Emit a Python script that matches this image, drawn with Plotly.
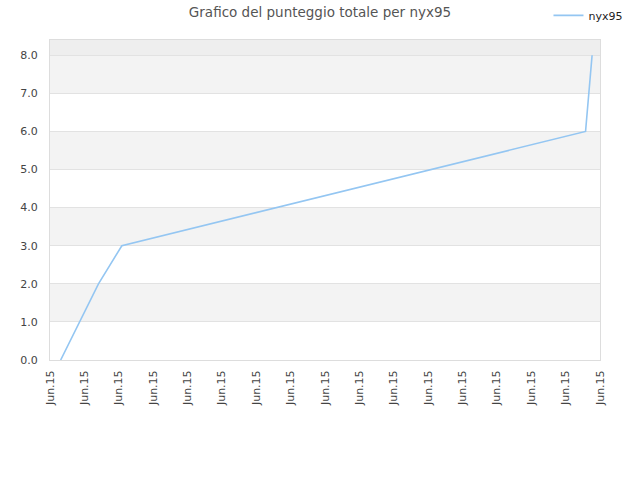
import plotly.graph_objects as go

# punteggio totale nel tempo (posizioni lungo l'asse delle date)
pos = [0.31, 1.41, 2.09, 15.58, 15.77]
punteggio = [0, 2, 3, 6, 8]
tick_pos = list(range(17))
tick_lab = ["Jun.15"] * 17

fig = go.Figure()

# bande alternate
for y0 in [1, 3, 5, 7]:
    fig.add_hrect(y0=y0, y1=y0 + 1, fillcolor="#f3f3f3", line_width=0, layer="below")
fig.add_hrect(y0=8, y1=8.4, fillcolor="#eeeeee", line_width=0, layer="below")

fig.add_trace(go.Scatter(x=pos, y=punteggio, mode="lines", name="nyx95",
                         line=dict(color="#94c6f2", width=1.6)))

fig.update_layout(
    width=640, height=480,
    margin=dict(l=50, r=40, t=40, b=120, autoexpand=False),
    paper_bgcolor="white", plot_bgcolor="white",
    font=dict(family="DejaVu Sans", size=11, color="#444"),
    title=dict(text="Grafico del punteggio totale per nyx95", x=0.5, xanchor="center",
               xref="container", yref="container",
               y=0.975, yanchor="middle", font=dict(size=13.5, color="#555")),
    showlegend=True,
    legend=dict(xref="container", yref="container", x=0.857, xanchor="left",
                y=0.968, yanchor="middle",
                font=dict(size=11, color="#222"), bgcolor="rgba(0,0,0,0)"),
)
fig.update_xaxes(range=[0, 16], tickvals=tick_pos, ticktext=tick_lab, tickangle=-90,
                 showgrid=False, zeroline=False, showline=True, linecolor="#dddddd",
                 mirror=True, ticks="", automargin=False, ticklabelstandoff=5,
                 tickfont=dict(size=11, color="#444"))
fig.update_yaxes(range=[0, 8.4], tickvals=[0, 1, 2, 3, 4, 5, 6, 7, 8],
                 ticktext=["0.0", "1.0", "2.0", "3.0", "4.0", "5.0", "6.0", "7.0", "8.0"],
                 showgrid=True, gridcolor="#e2e2e2", zeroline=False, showline=True,
                 linecolor="#dddddd", mirror=True, ticks="", automargin=False,
                 ticklabelstandoff=9, tickfont=dict(size=11, color="#444"))

# la pagina ha un margine di 8px sul body: lo tolgo
fig.write_html("out.html", config={"displayModeBar": False},
               post_script="document.body.style.margin='0';")
